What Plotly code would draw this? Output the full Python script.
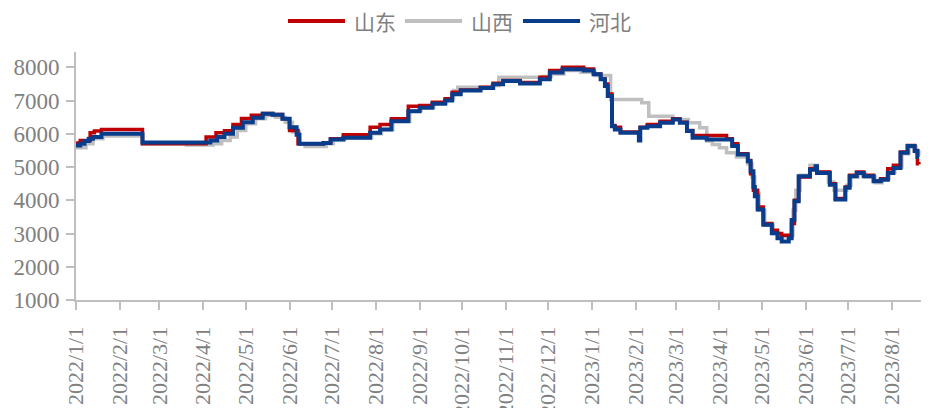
import plotly.graph_objects as go

# 山东 price series (change points, step-held between dates)
sd_dates = ["2022-01-01", "2022-01-04", "2022-01-11", "2022-01-14", "2022-01-19", "2022-02-17",
            "2022-04-03", "2022-04-10", "2022-04-16", "2022-04-22", "2022-04-28", "2022-05-05",
            "2022-05-13", "2022-05-20", "2022-05-27", "2022-06-01", "2022-06-07", "2022-06-25",
            "2022-06-30", "2022-07-09", "2022-07-28", "2022-08-04", "2022-08-12", "2022-08-24",
            "2022-09-01", "2022-09-10", "2022-09-19", "2022-09-24", "2022-09-30", "2022-10-14",
            "2022-10-23", "2022-10-30", "2022-11-11", "2022-11-25", "2022-12-02", "2022-12-11",
            "2022-12-26", "2023-01-02", "2023-01-07", "2023-01-10", "2023-01-12", "2023-01-15",
            "2023-01-17", "2023-01-21", "2023-02-04", "2023-02-09", "2023-02-18", "2023-02-27",
            "2023-03-04", "2023-03-09", "2023-03-13", "2023-04-06", "2023-04-10", "2023-04-14",
            "2023-04-21", "2023-04-23", "2023-04-25", "2023-04-28", "2023-05-02", "2023-05-08",
            "2023-05-12", "2023-05-15", "2023-05-20", "2023-05-22", "2023-05-24", "2023-05-27",
            "2023-06-04", "2023-06-08", "2023-06-09", "2023-06-18", "2023-06-22", "2023-06-29",
            "2023-07-02", "2023-07-07", "2023-07-12", "2023-07-19", "2023-07-24", "2023-07-29",
            "2023-08-02", "2023-08-07", "2023-08-12", "2023-08-17", "2023-08-19", "2023-08-20"]
sd_values = [5720, 5800, 6030, 6080, 6130, 5700,
             5900, 6030, 6090, 6280, 6460, 6560,
             6610, 6580, 6450, 6100, 5700, 5720,
             5850, 5970, 6200, 6280, 6450, 6830,
             6850, 6950, 7050, 7250, 7320, 7400,
             7520, 7600, 7540, 7700, 7900, 8000,
             7950, 7800, 7650, 7500, 7200, 6250,
             6200, 6050, 6200, 6280, 6380, 6450,
             6350, 6100, 5950, 5850, 5700, 5400,
             5200, 4800, 4300, 3800, 3300, 3100,
             3000, 2950, 2880, 3300, 4000, 4700,
             4950, 5000, 4850, 4500, 4050, 4400,
             4750, 4850, 4750, 4580, 4650, 4950,
             5050, 5450, 5650, 5500, 5100, 5080]

# 山西 price series
sx_dates = ["2022-01-01", "2022-01-08", "2022-01-13", "2022-01-20", "2022-02-17", "2022-03-20",
            "2022-04-08", "2022-04-14", "2022-04-20", "2022-04-25", "2022-05-01", "2022-05-08",
            "2022-05-15", "2022-05-22", "2022-05-29", "2022-06-03", "2022-06-08", "2022-06-12",
            "2022-06-27", "2022-07-02", "2022-07-10", "2022-07-29", "2022-08-05", "2022-08-13",
            "2022-08-25", "2022-09-02", "2022-09-11", "2022-09-20", "2022-09-25", "2022-09-28",
            "2022-10-22", "2022-10-27", "2022-11-27", "2022-12-03", "2022-12-12", "2022-12-24",
            "2023-01-03", "2023-01-14", "2023-02-05", "2023-02-10", "2023-02-27", "2023-03-10",
            "2023-03-18", "2023-03-23", "2023-03-27", "2023-04-01", "2023-04-06", "2023-04-13",
            "2023-04-21", "2023-04-24", "2023-04-26", "2023-04-29", "2023-05-03", "2023-05-09",
            "2023-05-13", "2023-05-21", "2023-05-23", "2023-05-25", "2023-05-28", "2023-06-04",
            "2023-06-09", "2023-06-17", "2023-06-21", "2023-06-30", "2023-07-03", "2023-07-08",
            "2023-07-13", "2023-07-20", "2023-07-25", "2023-07-30", "2023-08-03", "2023-08-08",
            "2023-08-13", "2023-08-18", "2023-08-20"]
sx_values = [5580, 5700, 5850, 5930, 5700, 5660,
             5700, 5800, 5900, 6100, 6300, 6450,
             6550, 6500, 6350, 6050, 5700, 5620,
             5700, 5820, 5880, 6000, 6130, 6380,
             6700, 6800, 6920, 7050, 7300, 7400,
             7450, 7700, 7720, 7800, 7900, 7850,
             7750, 7030, 6930, 6530, 6430, 6330,
             6180, 5780, 5680, 5580, 5430, 5300,
             5100, 4700, 4200, 3700, 3250, 3000,
             2900, 2950, 3700, 4300, 4750, 5050,
             4850, 4550, 4300, 4450, 4700, 4800,
             4700, 4530, 4650, 4850, 5000, 5400,
             5600, 5450, 5350]

# 河北 price series
hb_dates = ["2022-01-01", "2022-01-04", "2022-01-07", "2022-01-10", "2022-01-13", "2022-01-19",
            "2022-02-17", "2022-04-06", "2022-04-11", "2022-04-16", "2022-04-22", "2022-04-29",
            "2022-05-06", "2022-05-13", "2022-05-20", "2022-05-27", "2022-06-01", "2022-06-06",
            "2022-06-08", "2022-06-25", "2022-06-30", "2022-07-09", "2022-07-28", "2022-08-04",
            "2022-08-12", "2022-08-24", "2022-09-01", "2022-09-10", "2022-09-19", "2022-09-24",
            "2022-09-30", "2022-10-14", "2022-10-23", "2022-10-30", "2022-11-11", "2022-11-25",
            "2022-12-02", "2022-12-11", "2022-12-26", "2023-01-02", "2023-01-07", "2023-01-10",
            "2023-01-12", "2023-01-15", "2023-01-17", "2023-01-21", "2023-02-03", "2023-02-04",
            "2023-02-09", "2023-02-18", "2023-02-27", "2023-03-04", "2023-03-09", "2023-03-13",
            "2023-03-23", "2023-04-10", "2023-04-14", "2023-04-21", "2023-04-23", "2023-04-25",
            "2023-04-26", "2023-04-28", "2023-05-02", "2023-05-08", "2023-05-12", "2023-05-15",
            "2023-05-20", "2023-05-22", "2023-05-24", "2023-05-27", "2023-06-04", "2023-06-08",
            "2023-06-09", "2023-06-18", "2023-06-22", "2023-06-29", "2023-07-02", "2023-07-07",
            "2023-07-12", "2023-07-19", "2023-07-24", "2023-07-29", "2023-08-02", "2023-08-07",
            "2023-08-12", "2023-08-17", "2023-08-19", "2023-08-20"]
hb_values = [5650, 5700, 5780, 5850, 5900, 6000,
             5740, 5800, 5900, 6000, 6180, 6350,
             6480, 6600, 6570, 6450, 6200, 5970,
             5700, 5720, 5830, 5880, 6030, 6130,
             6380, 6680, 6780, 6900, 7000, 7190,
             7300, 7380, 7490, 7590, 7510, 7640,
             7840, 7940, 7900, 7790, 7640, 7440,
             7140, 6230, 6130, 6030, 5800, 6180,
             6230, 6330, 6430, 6330, 6080, 5880,
             5830, 5630, 5380, 5170, 4870, 4400,
             4120, 3720, 3260, 3010, 2860, 2760,
             2860, 3410, 3970, 4720, 4920, 5020,
             4820, 4470, 4020, 4380, 4720, 4820,
             4720, 4570, 4620, 4820, 4970, 5430,
             5630, 5480, 5300, 5300]

# Axis ticks
month_ticks = ["2022-01-01", "2022-02-01", "2022-03-01", "2022-04-01", "2022-05-01", "2022-06-01",
               "2022-07-01", "2022-08-01", "2022-09-01", "2022-10-01", "2022-11-01", "2022-12-01",
               "2023-01-01", "2023-02-01", "2023-03-01", "2023-04-01", "2023-05-01", "2023-06-01",
               "2023-07-01", "2023-08-01"]
month_labels = ["2022/1/1", "2022/2/1", "2022/3/1", "2022/4/1", "2022/5/1", "2022/6/1",
                "2022/7/1", "2022/8/1", "2022/9/1", "2022/10/1", "2022/11/1", "2022/12/1",
                "2023/1/1", "2023/2/1", "2023/3/1", "2023/4/1", "2023/5/1", "2023/6/1",
                "2023/7/1", "2023/8/1"]
y_ticks = [1000, 2000, 3000, 4000, 5000, 6000, 7000, 8000]

series = [
    ("山西", sx_dates, sx_values, "#BFBFBF", 3.5),
    ("山东", sd_dates, sd_values, "#C00000", 3.5),
    ("河北", hb_dates, hb_values, "#0A3C8C", 4),
]

fig = go.Figure()
for name, d, v, color, w in series:
    fig.add_trace(go.Scatter(x=d, y=v, name=name, mode="lines",
                             line=dict(color=color, width=w, shape="hv"),
                             showlegend=False))

axis_gray = "#BFBFBF"
label_gray = "#808080"
serif = "Liberation Serif, Times New Roman, serif"

fig.update_xaxes(
    type="date", automargin=False,
    range=["2022-01-01", "2023-08-21 12:00"],
    tickvals=month_ticks, ticktext=month_labels, tickangle=-90,
    showgrid=False, zeroline=False,
    showline=True, linecolor=axis_gray, linewidth=2,
    ticks="outside", ticklen=8, tickwidth=2, tickcolor=axis_gray,
    ticklabelstandoff=8,
    tickfont=dict(family=serif, size=22, color=label_gray),
)
fig.update_yaxes(
    automargin=False,
    range=[1000, 8460], tickvals=y_ticks,
    showgrid=False, zeroline=False,
    showline=True, linecolor=axis_gray, linewidth=2,
    ticks="outside", ticklen=8, tickwidth=2, tickcolor=axis_gray,
    ticklabelstandoff=2,
    tickfont=dict(family=serif, size=23, color=label_gray),
)

# Legend row drawn above the plot area
legend_items = [("山东", "#C00000", 0.2509), ("山西", "#BFBFBF", 0.3893), ("河北", "#0A3C8C", 0.5290)]
legend_y = 1.125
line_len = 0.0675
for text, color, x0 in legend_items:
    fig.add_shape(type="line", xref="paper", yref="paper",
                  x0=x0, x1=x0 + line_len, y0=legend_y, y1=legend_y,
                  line=dict(color=color, width=4))
    fig.add_annotation(text=text, xref="paper", yref="paper",
                       x=x0 + line_len + 0.008, y=legend_y, xanchor="left", yanchor="middle",
                       showarrow=False,
                       font=dict(family="Noto Sans CJK SC", size=21, color=label_gray))

fig.update_layout(
    width=929, height=408,
    margin=dict(l=76, r=8, t=52, b=108),
    plot_bgcolor="white", paper_bgcolor="white",
    showlegend=False,
)

fig.write_html("out.html")
